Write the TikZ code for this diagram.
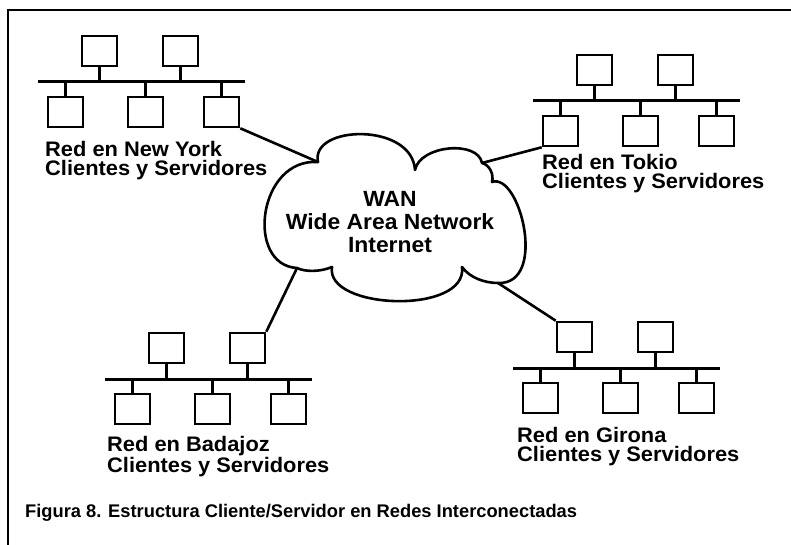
\documentclass[tikz,border=0pt]{standalone}
\usepackage{fontspec}
\setmainfont{Liberation Sans}
\newfontfamily\labfont[FakeStretch=1.04]{Liberation Sans}
\newfontfamily\capfont{Liberation Sans}
\tikzset{
  pc/.style={draw, line width=2.6pt, minimum width=35pt, minimum height=30pt, inner sep=0pt},
  wire/.style={line width=3pt},
  link/.style={line width=2.6pt},
  lab/.style={anchor=base west, inner sep=0pt, font=\labfont\bfseries\fontsize{21}{21}\selectfont},
  wan/.style={anchor=base, inner sep=0pt, font=\labfont\bfseries\fontsize{22}{22}\selectfont},
  capt/.style={anchor=base west, inner sep=0pt, font=\capfont\bfseries\fontsize{18.3}{18.3}\selectfont},
  frame/.style={line width=2.8pt},
  cloud/.style={line width=2.6pt, line join=round}
}
\newcommand\netw[3]{%
  \begin{scope}[shift={(#2,#3)}]
    \coordinate (#1L) at (0,0);
    \coordinate (#1R) at (207,0);
    \node[pc] (#1t1) at (61.5,-31) {};
    \node[pc] (#1t2) at (142.5,-31) {};
    \node[pc] (#1b1) at (27.5,30) {};
    \node[pc] (#1b2) at (107.5,30) {};
    \node[pc] (#1b3) at (183.5,30) {};
    \draw[wire] (#1L) -- (#1R);
    \draw[wire] (#1t1.south) -- (#1t1.south |- #1L);
    \draw[wire] (#1t2.south) -- (#1t2.south |- #1L);
    \draw[wire] (#1b1.north) -- (#1b1.north |- #1L);
    \draw[wire] (#1b2.north) -- (#1b2.north |- #1L);
    \draw[wire] (#1b3.north) -- (#1b3.north |- #1L);
  \end{scope}}
\begin{document}
\begin{tikzpicture}[x=1pt,y=-1pt]
\useasboundingbox (0,0) rectangle (791,545);
\fill[white] (0,0) rectangle (791,545);
\draw[frame] (8,546) -- (8,10) -- (792,10);

% networks
\netw{ny}{38}{82}
\netw{tk}{533}{101}
\netw{bd}{105}{379}
\netw{gi}{513}{368}

% cloud
\coordinate (cNY) at (318,162);
\coordinate (cTop) at (415,170);
\coordinate (cTK) at (482,163);
\coordinate (cR) at (492,182);
\coordinate (cGI) at (498,283);
\coordinate (cB1) at (462,267);
\coordinate (cB2) at (332,267);
\coordinate (cBD) at (297,268);
\draw[cloud] (cNY) .. controls (310,125) and (412,122) .. (cTop)
  .. controls (420,145) and (478,140) .. (cTK)
  .. controls (490,165) and (494,175) .. (cR)
  .. controls (520,172) and (548,285) .. (cGI)
  .. controls (485,283) and (470,278) .. (cB1)
  .. controls (468,315) and (325,310) .. (cB2)
  .. controls (320,272) and (305,272) .. (cBD)
  .. controls (245,265) and (258,158) .. (cNY) -- cycle;

% links
\draw[link] (nyb3.south east) -- (cNY);
\draw[link] (tkb1.south west) -- (cTK);
\draw[link] (bdt2.north east) -- (cBD);
\draw[link] (git1.north west) -- (cGI);

% texts
\node[wan] (w1) at (390,207) {WAN};
\node[wan] (w2) at (390,229.5) {Wide Area Network};
\node[wan] (w3) at (390,252) {Internet};

\node[lab] (ny1) at (45,156.5) {Red en New York};
\node[lab] (ny2) at (45,176) {Clientes y Servidores};
\node[lab] (tk1) at (542,169.5) {Red en Tokio};
\node[lab] (tk2) at (542,189) {Clientes y Servidores};
\node[lab] (bd1) at (107,451.5) {Red en Badajoz};
\node[lab] (bd2) at (107,472) {Clientes y Servidores};
\node[lab] (gi1) at (517,442) {Red en Girona};
\node[lab] (gi2) at (517,461.5) {Clientes y Servidores};

\node[capt] (cap) at (25,517) {Figura 8. Estructura Cliente/Servidor en Redes Interconectadas};
\end{tikzpicture}
\end{document}
